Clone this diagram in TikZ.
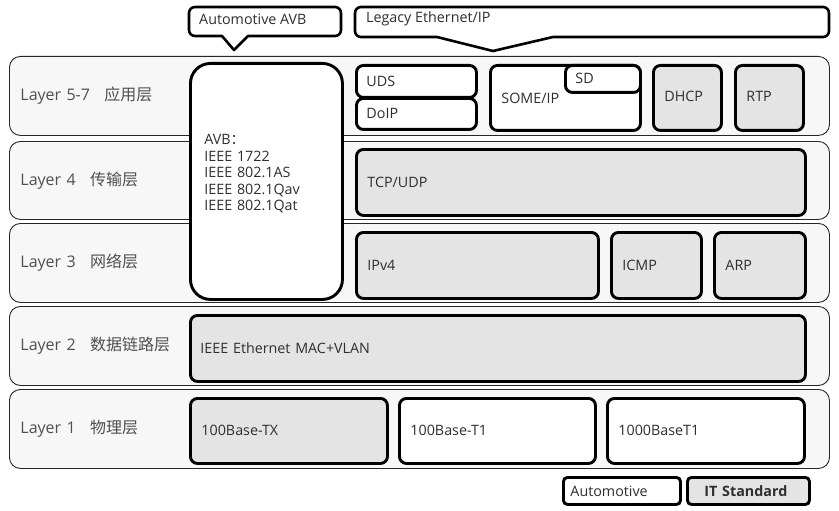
\documentclass[tikz,border=0pt]{standalone}
\usepackage{fontspec}
\setmainfont{Open Sans}
\newfontfamily\cjk{Noto Sans CJK SC}
\definecolor{bandfill}{HTML}{F7F7F7}
\definecolor{itgray}{HTML}{E4E4E4}
\definecolor{txt}{HTML}{2E2E2E}
\definecolor{lbl}{HTML}{505050}
\tikzset{
  band/.style={draw=black!85, line width=0.9pt, fill=bandfill, rounded corners=11pt, text=lbl, font=\fontsize{16}{19}\selectfont},
  autobox/.style={draw=black, line width=2.9pt, fill=white, rounded corners=7pt, text=txt, font=\fontsize{14.3}{16.5}\selectfont},
  itbox/.style={autobox, fill=itgray},
  callout/.style={draw=black, line width=2.6pt, fill=white, line join=round},
  ctext/.style={text=txt, font=\fontsize{14.3}{16}\selectfont, anchor=west, inner sep=0pt}
}
\newcommand\mybox[8]{% name x1 y1 x2 y2 style xsep text
  \pgfmathsetmacro\bw{#4-#2}\pgfmathsetmacro\bh{#5-#3}\pgfmathsetmacro\tw{#4-#2-2*#7}%
  \node[#6, anchor=north west, minimum width=\bw pt, minimum height=\bh pt,
        text width=\tw pt, inner xsep=#7pt, inner ysep=0pt, align=left] (#1) at (#2,#3) {#8};}
\begin{document}
\begin{tikzpicture}[x=1pt,y=-1pt]
\useasboundingbox (0,0) rectangle (839,511);
% layer bands
\mybox{band5}{9}{56}{829}{135}{band}{11}{Layer 5-7\hspace{0.9em}{\cjk 应用层}}
\mybox{band4}{9}{141}{829}{219}{band}{11}{Layer 4\hspace{0.9em}{\cjk 传输层}}
\mybox{band3}{9}{223}{829}{302}{band}{11}{Layer 3\hspace{0.9em}{\cjk 网络层}}
\mybox{band2}{9}{306}{829}{385}{band}{11}{Layer 2\hspace{0.9em}{\cjk 数据链路层}}
\mybox{band1}{9}{389}{829}{468}{band}{11}{Layer 1\hspace{0.9em}{\cjk 物理层}}
% callouts
\draw[callout] (234,50) -- (222,36) [rounded corners=6pt] -- (189,36) -- (189,7) -- (341,7) -- (341,36) [sharp corners] -- (248,36) -- cycle;
\node[ctext] (avbcall) at (199,19) {Automotive AVB};
\draw[callout] (493,51) -- (437,37) [rounded corners=6pt] -- (355,37) -- (355,7) -- (829,7) -- (829,37) [sharp corners] -- (553,37) -- cycle;
\node[ctext] (legcall) at (366,19) {Legacy Ethernet/IP};
% AVB column
\mybox{avb}{189}{62}{341}{298}{autobox, rounded corners=20pt}{14}{AVB{\cjk ：}\\IEEE 1722\\IEEE 802.1AS\\IEEE 802.1Qav\\IEEE 802.1Qat\\[1pt]\mbox{}}
% layer 5-7
\mybox{uds}{355}{64}{475}{96}{autobox}{10}{\raisebox{1pt}{UDS}}
\mybox{doip}{355}{97}{475}{128}{autobox}{10}{\raisebox{1pt}{DoIP}}
\mybox{someip}{489}{64}{639}{129}{autobox}{11}{\raisebox{-6pt}{SOME/IP}}
\mybox{sd}{564}{64}{639}{91}{autobox}{10}{\raisebox{1pt}{SD}}
\mybox{dhcp}{652}{64}{720}{129}{itbox}{11}{\raisebox{3pt}{DHCP}}
\mybox{rtp}{734}{64}{802}{129}{itbox}{11}{\raisebox{3pt}{RTP}}
% layer 4
\mybox{tcp}{355}{148}{804}{214}{itbox}{11}{\raisebox{1pt}{TCP/UDP}}
% layer 3
\mybox{ipv4}{355}{231}{597}{297}{itbox}{11}{\raisebox{1pt}{IPv4}}
\mybox{icmp}{610}{231}{700}{297}{itbox}{11}{\raisebox{1pt}{ICMP}}
\mybox{arp}{713}{231}{804}{297}{itbox}{11}{\raisebox{1pt}{ARP}}
% layer 2
\mybox{mac}{189}{314}{804}{380}{itbox}{10}{\raisebox{1pt}{IEEE Ethernet MAC+VLAN}}
% layer 1
\mybox{tx}{189}{397}{386}{462}{itbox}{11}{\raisebox{1pt}{100Base-TX}}
\mybox{tone}{398}{397}{594}{462}{autobox}{11}{\raisebox{2pt}{100Base-T1}}
\mybox{gig}{606}{397}{803}{462}{autobox}{11}{\raisebox{2pt}{1000BaseT1}}
% legend
\mybox{legauto}{562}{476}{679}{503}{autobox, rounded corners=4pt}{7}{Automotive}
\mybox{legit}{686}{476}{808}{503}{itbox, rounded corners=4pt}{17}{\bfseries IT Standard}
\end{tikzpicture}
\end{document}
